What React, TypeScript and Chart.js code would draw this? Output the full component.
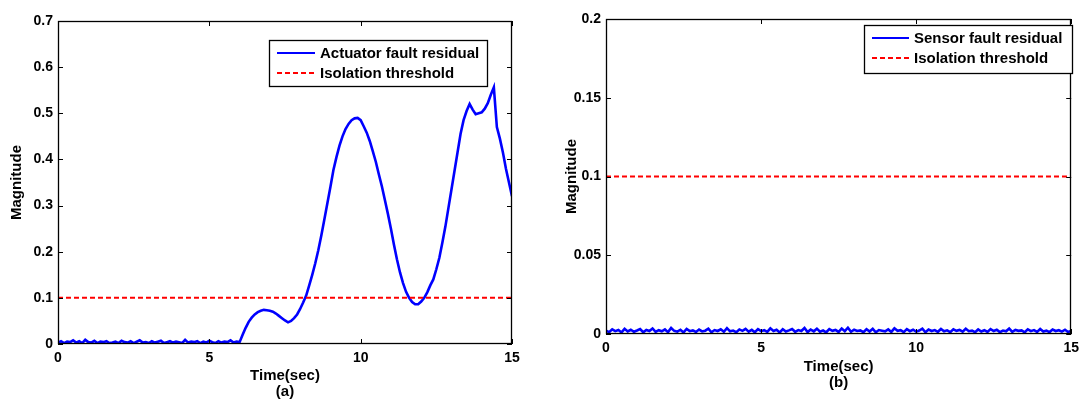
import React, { useEffect, useRef } from 'react';
import { Chart, registerables } from 'chart.js';

Chart.register(...registerables);

// ---------- DATA ----------
const sampleTimes: number[] = Array.from({ length: 151 }, (_, i) => Math.round(i) / 10);

const actuatorResidual: number[] = [
  0.003, 0.006, 0.002, 0.005, 0.004, 0.008, 0.003, 0.006, 0.002, 0.009,
  0.004, 0.003, 0.007, 0.002, 0.005, 0.004, 0.006, 0.002, 0.003, 0.005,
  0.002, 0.007, 0.004, 0.003, 0.006, 0.002, 0.005, 0.008, 0.003, 0.004,
  0.002, 0.006, 0.003, 0.005, 0.007, 0.002, 0.004, 0.006, 0.003, 0.005,
  0.004, 0.002, 0.009, 0.003, 0.005, 0.004, 0.006, 0.002, 0.005, 0.003,
  0.007, 0.004, 0.002, 0.006, 0.003, 0.005, 0.004, 0.008, 0.003, 0.005,
  0.004,
  0.02, 0.035, 0.048, 0.057, 0.064, 0.069, 0.072, 0.074, 0.073,
  0.072, 0.07, 0.066, 0.061, 0.056, 0.051, 0.047, 0.05, 0.056, 0.064,
  0.076, 0.09, 0.105, 0.127, 0.15, 0.175, 0.203, 0.235, 0.27, 0.305,
  0.34, 0.377, 0.405, 0.43, 0.45, 0.466, 0.477, 0.485, 0.489, 0.49,
  0.485, 0.472, 0.458, 0.44, 0.418, 0.395, 0.368, 0.342, 0.312, 0.282,
  0.25, 0.215, 0.183, 0.155, 0.132, 0.113, 0.1, 0.091, 0.086, 0.086,
  0.092, 0.1, 0.112, 0.127, 0.14, 0.162, 0.187, 0.22, 0.255, 0.295,
  0.335, 0.375, 0.415, 0.455, 0.485, 0.505, 0.52, 0.508, 0.498, 0.5,
  0.502, 0.51, 0.522, 0.54, 0.556, 0.47, 0.445, 0.415, 0.38, 0.35,
  0.32,
];

const sensorResidual: number[] = [
  0.0021, 0.0012, 0.0030, 0.0018, 0.0025, 0.0010, 0.0033, 0.0016, 0.0027, 0.0014,
  0.0022, 0.0031, 0.0011, 0.0026, 0.0019, 0.0035, 0.0013, 0.0024, 0.0017, 0.0029,
  0.0012, 0.0038, 0.0020, 0.0015, 0.0027, 0.0010, 0.0032, 0.0018, 0.0023, 0.0013,
  0.0028, 0.0016, 0.0021, 0.0034, 0.0011, 0.0025, 0.0019, 0.0030, 0.0014, 0.0037,
  0.0017, 0.0022, 0.0012, 0.0029, 0.0020, 0.0033, 0.0015, 0.0026, 0.0011, 0.0031,
  0.0018, 0.0024, 0.0013, 0.0036, 0.0019, 0.0027, 0.0010, 0.0030, 0.0016, 0.0023,
  0.0032, 0.0014, 0.0025, 0.0019, 0.0038, 0.0012, 0.0028, 0.0017, 0.0034, 0.0015,
  0.0022, 0.0011, 0.0031, 0.0020, 0.0026, 0.0013, 0.0035, 0.0018, 0.0040, 0.0014,
  0.0027, 0.0019, 0.0023, 0.0012, 0.0030, 0.0016, 0.0033, 0.0011, 0.0025, 0.0021,
  0.0017, 0.0029, 0.0013, 0.0036, 0.0020, 0.0024, 0.0012, 0.0031, 0.0018, 0.0027,
  0.0015, 0.0022, 0.0034, 0.0011, 0.0028, 0.0019, 0.0025, 0.0014, 0.0032, 0.0017,
  0.0023, 0.0012, 0.0030, 0.0020, 0.0026, 0.0015, 0.0033, 0.0018, 0.0021, 0.0011,
  0.0029, 0.0016, 0.0024, 0.0013, 0.0031, 0.0019, 0.0027, 0.0012, 0.0022, 0.0017,
  0.0035, 0.0014, 0.0026, 0.0020, 0.0023, 0.0011, 0.0030, 0.0018, 0.0025, 0.0013,
  0.0032, 0.0016, 0.0021, 0.0012, 0.0028, 0.0019, 0.0024, 0.0015, 0.0027, 0.0013,
  0.0020,
];

const thresholdTimes: number[] = [0, 15];
const thresholdValues: number[] = [0.1, 0.1];

const leftLegendLabels: string[] = ['Actuator fault residual', 'Isolation threshold'];
const rightLegendLabels: string[] = ['Sensor fault residual', 'Isolation threshold'];
const xTitleLeft: string[] = ['Time(sec)', '(a)'];
const xTitleRight: string[] = ['Time(sec)', '(b)'];
const yTitle = 'Magnitude';

// ---------- STYLE ----------
const FONT = "'Liberation Sans', Arial, sans-serif";
const BLUE = '#0000ff';
const RED = '#ff0000';

const matlabPlugin = {
  id: 'matlabFrame',
  afterDraw(chart: any, _args: any, opts: any) {
    const { ctx, chartArea: a, scales } = chart;
    ctx.save();
    ctx.strokeStyle = '#000';
    ctx.lineWidth = 1.3;
    ctx.strokeRect(Math.round(a.left) + 0.5, Math.round(a.top) + 0.5,
      Math.round(a.right - a.left) - 1, Math.round(a.bottom - a.top) - 1);
    const tl = 5;
    ctx.lineWidth = 1;
    ctx.beginPath();
    scales.x.ticks.forEach((t: any) => {
      const px = Math.round(scales.x.getPixelForValue(t.value)) + 0.5;
      ctx.moveTo(px, a.bottom); ctx.lineTo(px, a.bottom - tl);
      ctx.moveTo(px, a.top); ctx.lineTo(px, a.top + tl);
    });
    scales.y.ticks.forEach((t: any) => {
      const py = Math.round(scales.y.getPixelForValue(t.value)) + 0.5;
      ctx.moveTo(a.left, py); ctx.lineTo(a.left + tl, py);
      ctx.moveTo(a.right, py); ctx.lineTo(a.right - tl, py);
    });
    ctx.stroke();

    if (opts && opts.legend) {
      const L = opts.legend;
      ctx.fillStyle = '#fff';
      ctx.fillRect(L.box[0], L.box[1], L.box[2] - L.box[0], L.box[3] - L.box[1]);
      ctx.strokeStyle = '#000';
      ctx.lineWidth = 1.3;
      ctx.strokeRect(L.box[0] + 0.5, L.box[1] + 0.5, L.box[2] - L.box[0], L.box[3] - L.box[1]);
      L.items.forEach((it: any, i: number) => {
        const y = L.rows[i];
        ctx.beginPath();
        ctx.strokeStyle = it.color;
        ctx.lineWidth = 2;
        ctx.setLineDash(it.dash || []);
        ctx.moveTo(L.lineX[0], y);
        ctx.lineTo(L.lineX[1], y);
        ctx.stroke();
        ctx.setLineDash([]);
        ctx.fillStyle = '#000';
        ctx.font = `bold 15px ${FONT}`;
        ctx.textBaseline = 'middle';
        ctx.textAlign = 'left';
        ctx.fillText(it.label, L.textX, y + 1);
      });
    }
    ctx.restore();
  },
};

function makeConfig(p: {
  values: number[];
  yMax: number;
  yStep: number;
  xTitle: string[];
  legendLabels: string[];
  yAxisWidth: number;
  xAxisHeight: number;
  padTop: number;
  padRight: number;
  yTitlePad: number;
  xTitlePadBottom: number;
  legend: any;
}) {
  return {
    type: 'line' as const,
    data: {
      datasets: [
        {
          label: p.legendLabels[1],
          data: thresholdTimes.map((t, i) => ({ x: t, y: thresholdValues[i] })),
          borderColor: RED,
          borderWidth: 2,
          borderDash: [5, 3],
          pointRadius: 0,
          order: 0,
        },
        {
          label: p.legendLabels[0],
          data: p.values.map((v, i) => ({ x: sampleTimes[i], y: v })),
          borderColor: BLUE,
          borderWidth: 2.6,
          pointRadius: 0,
          tension: 0,
          order: 1,
        },
      ],
    },
    options: {
      animation: false as const,
      responsive: false,
      maintainAspectRatio: false,
      layout: { padding: { top: p.padTop, right: p.padRight, left: 0, bottom: 0 } },
      plugins: {
        legend: { display: false },
        tooltip: { enabled: false },
        matlabFrame: { legend: p.legend },
      },
      scales: {
        x: {
          type: 'linear' as const,
          min: 0,
          max: 15,
          grid: { display: false, drawTicks: false },
          border: { display: false },
          ticks: {
            stepSize: 5,
            padding: 6,
            color: '#000',
            font: { family: FONT, size: 14, weight: 'bold' as const },
            maxRotation: 0,
          },
          title: {
            display: true,
            text: p.xTitle,
            color: '#000',
            font: { family: FONT, size: 15, weight: 'bold' as const, lineHeight: '16px' },
            padding: { top: 0, bottom: p.xTitlePadBottom },
          },
          afterFit(scale: any) {
            scale.height = p.xAxisHeight;
          },
        },
        y: {
          type: 'linear' as const,
          min: 0,
          max: p.yMax,
          grid: { display: false, drawTicks: false },
          border: { display: false },
          ticks: {
            stepSize: p.yStep,
            padding: 5,
            color: '#000',
            font: { family: FONT, size: 14, weight: 'bold' as const },
            callback: (v: any) => String(parseFloat(Number(v).toFixed(3))),
          },
          title: {
            display: true,
            text: yTitle,
            color: '#000',
            font: { family: FONT, size: 15, weight: 'bold' as const },
            padding: { top: p.yTitlePad, bottom: 0 },
          },
          afterFit(scale: any) {
            scale.width = p.yAxisWidth;
          },
        },
      },
    },
    plugins: [matlabPlugin],
  };
}

function ChartPanel({ config, left }: { config: any; left: number }) {
  const ref = useRef<HTMLCanvasElement | null>(null);
  useEffect(() => {
    if (!ref.current) return;
    const chart = new Chart(ref.current, config);
    return () => chart.destroy();
  }, [config]);
  return (
    <div style={{ position: 'absolute', left, top: 0, width: 540, height: 400 }}>
      <canvas ref={ref} width={540} height={400} style={{ width: 540, height: 400, display: 'block' }} />
    </div>
  );
}

const leftConfig = makeConfig({
  values: actuatorResidual,
  yMax: 0.7,
  yStep: 0.1,
  xTitle: xTitleLeft,
  legendLabels: leftLegendLabels,
  yAxisWidth: 58,
  xAxisHeight: 56,
  padTop: 21,
  padRight: 28,
  yTitlePad: 8,
  xTitlePadBottom: 0,
  legend: {
    box: [269, 40, 487, 86],
    lineX: [277, 315],
    textX: 320,
    rows: [53, 73],
    items: [
      { label: leftLegendLabels[0], color: BLUE },
      { label: leftLegendLabels[1], color: RED, dash: [5, 3] },
    ],
  },
});

const rightConfig = makeConfig({
  values: sensorResidual,
  yMax: 0.2,
  yStep: 0.05,
  xTitle: xTitleRight,
  legendLabels: rightLegendLabels,
  yAxisWidth: 61,
  xAxisHeight: 66,
  padTop: 19,
  padRight: 9,
  yTitlePad: 18,
  xTitlePadBottom: 9,
  legend: {
    box: [319, 25, 527, 73],
    lineX: [327, 364],
    textX: 369,
    rows: [38, 58],
    items: [
      { label: rightLegendLabels[0], color: BLUE },
      { label: rightLegendLabels[1], color: RED, dash: [5, 3] },
    ],
  },
});

export default function App() {
  return (
    <div style={{ position: 'absolute', left: 0, top: 0, width: 1085, height: 400, background: '#fff', overflow: 'hidden' }}>
      <ChartPanel config={leftConfig} left={0} />
      <ChartPanel config={rightConfig} left={545} />
    </div>
  );
}
